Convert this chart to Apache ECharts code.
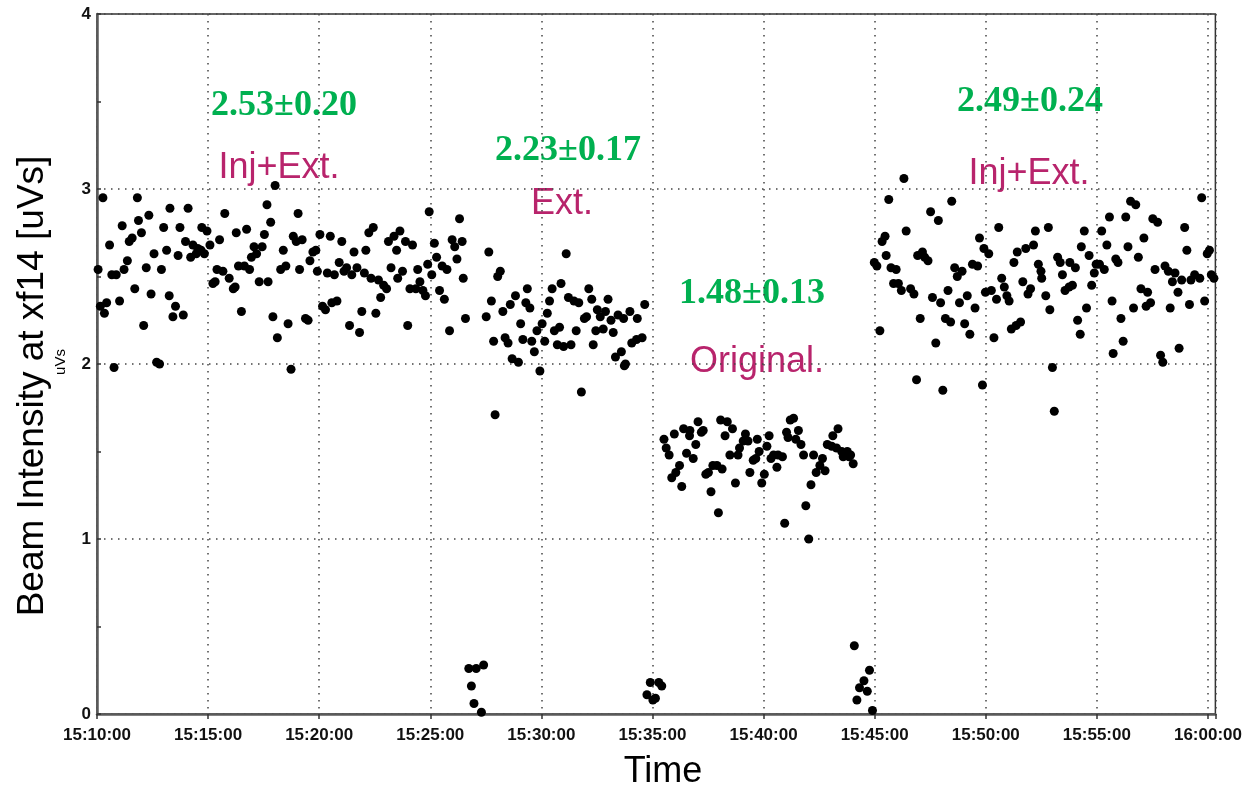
<!DOCTYPE html>
<html>
<head>
<meta charset="utf-8">
<script src="https://cdn.jsdelivr.net/npm/echarts@6/dist/echarts.min.js"></script>
<style>
html,body{margin:0;padding:0;background:#fff;}
#chart{width:1245px;height:790px;}
</style>
</head>
<body>
<div id="chart"></div>
<script>
// Time is in seconds after 15:10:00, values in uVs
const xTickLabels = ['15:10:00','15:15:00','15:20:00','15:25:00','15:30:00','15:35:00','15:40:00','15:45:00','15:50:00','15:55:00','16:00:00'];

// Inj+Ext. (first period)
const injExt1 = [
[16,2.95],[109,2.95],[197,2.89],[246,2.89],[140,2.85],[112,2.82],[68,2.79],[120,2.75],[180,2.78],[224,2.78],[283,2.78],[297,2.76],[95,2.72],[87,2.70],[34,2.68],[239,2.70],[259,2.68],[272,2.66],[188,2.65],[154,2.63],[219,2.62],[253,2.61],[268,2.63],[290,2.63],[281,2.65],[305,2.68],[331,2.71],[345,2.86],[376,2.75],[404,2.77],[459,2.91],[469,2.81],[452,2.74],[424,2.67],[446,2.67],[431,2.63],[417,2.61],[82,2.59],[73,2.54],[133,2.55],[174,2.54],[3,2.54],[40,2.51],[52,2.51],[324,2.54],[340,2.53],[357,2.49],[382,2.56],[398,2.56],[412,2.54],[313,2.46],[319,2.47],[368,2.43],[373,2.44],[438,2.47],[462,2.47],[102,2.43],[146,2.40],[195,2.39],[26,2.35],[61,2.36],[9,2.33],[20,2.29],[212,2.33],[205,2.27],[233,2.28],[390,2.30],[126,2.22],[475,2.27],[487,2.15],[161,2.01],[169,2.00],[46,1.98],[481,3.02],
[543,2.86],[530,2.73],[538,2.70],[554,2.71],[503,2.65],[496,2.54],[510,2.56],[547,2.54],[575,2.59],[583,2.64],[591,2.65],[595,2.53],[602,2.74],[630,2.73],[661,2.70],[694,2.64],[726,2.65],[734,2.75],[746,2.78],[654,2.58],[674,2.55],[667,2.53],[688,2.51],[702,2.55],[722,2.52],[622,2.52],[641,2.51],[740,2.49],[760,2.48],[774,2.45],[782,2.43],[766,2.38],[787,2.70],[802,2.73],[818,2.76],[809,2.65],[833,2.70],[852,2.68],[794,2.55],[825,2.53],[812,2.49],[866,2.54],[893,2.57],[897,2.87],[911,2.69],[917,2.61],[904,2.51],[872,2.47],[845,2.43],[861,2.43],[880,2.42],[887,2.39],[932,2.56],[945,2.54],[959,2.71],[966,2.67],[986,2.70],[979,2.83],[972,2.60],[989,2.49],[925,2.42],[938,2.37],[952,2.19],[995,2.26],[609,2.33],[617,2.31],[634,2.35],[648,2.36],[715,2.30],[753,2.29],[682,2.22],[709,2.18],[839,2.22],[516,2.23],[563,2.26],[570,2.25],[524,1.97]
];

// Ext.
const extOnly = [
[1058,2.64],[1089,2.53],[1082,2.50],[1065,2.36],[1051,2.27],[1130,2.39],[1116,2.34],[1096,2.30],[1162,2.43],[1158,2.35],[1169,2.32],[1144,2.23],[1102,2.15],[1110,2.12],[1071,2.13],[1150,2.14],[1174,2.13],[1181,2.07],[1121,2.03],[1138,2.01],[1196,1.96],[1188,2.19],[1202,2.23],[1209,2.13],[1216,2.29],[1222,2.36],[1229,2.43],[1253,2.46],[1267,2.63],[1273,2.38],[1288,2.36],[1301,2.35],[1235,2.19],[1249,2.21],[1243,2.11],[1260,2.10],[1280,2.11],[1294,2.19],[1316,2.26],[1322,2.27],[1328,2.43],[1336,2.37],[1351,2.31],[1359,2.27],[1373,2.30],[1380,2.37],[1388,2.25],[1407,2.28],[1422,2.26],[1439,2.30],[1459,2.26],[1479,2.34],[1347,2.19],[1367,2.20],[1394,2.18],[1340,2.11],[1416,2.07],[1400,2.04],[1427,2.00],[1424,1.99],[1444,2.12],[1457,2.14],[1472,2.15],[1308,1.84],[1075,1.71]
];

// Original.
const original = [
[1531,1.57],[1537,1.52],[1545,1.48],[1559,1.60],[1584,1.63],[1601,1.62],[1600,1.59],[1623,1.67],[1637,1.62],[1632,1.61],[1617,1.54],[1592,1.49],[1610,1.46],[1573,1.42],[1563,1.38],[1552,1.35],[1579,1.30],[1644,1.37],[1651,1.38],[1663,1.42],[1674,1.42],[1688,1.40],[1658,1.27],[1678,1.15],[1684,1.68],[1702,1.67],[1716,1.63],[1696,1.59],[1709,1.48],[1731,1.48],[1735,1.52],[1745,1.56],[1751,1.60],[1758,1.56],[1724,1.32],[1763,1.38],[1772,1.45],[1779,1.46],[1788,1.50],[1783,1.57],[1809,1.53],[1815,1.59],[1802,1.37],[1795,1.32],[1820,1.46],[1827,1.48],[1839,1.48],[1851,1.47],[1836,1.41],[1872,1.68],[1881,1.69],[1862,1.61],[1866,1.58],[1894,1.62],[1887,1.57],[1901,1.54],[1908,1.48],[1935,1.48],[1959,1.46],[1952,1.42],[1966,1.39],[1942,1.38],[1928,1.31],[1914,1.19],[1857,1.09],[1922,1.00],[1972,1.54],[1987,1.59],[2001,1.63],[1984,1.53],[1997,1.52],[2011,1.50],[2026,1.50],[2015,1.47],[2031,1.47],[2035,1.48],[2042,1.43]
];

// Inj+Ext. (second period)
const injExt2 = [
[2179,3.06],[2138,2.94],[2308,2.93],[2251,2.87],[2272,2.82],[2185,2.76],[2435,2.78],[2534,2.76],[2128,2.73],[2120,2.70],[2383,2.72],[2395,2.66],[2408,2.63],[2131,2.62],[2099,2.58],[2106,2.56],[2216,2.62],[2229,2.64],[2235,2.61],[2244,2.59],[2144,2.55],[2158,2.54],[2316,2.55],[2336,2.53],[2323,2.50],[2364,2.57],[2378,2.56],[2485,2.64],[2508,2.66],[2529,2.68],[2476,2.58],[2542,2.57],[2549,2.53],[2551,2.49],[2151,2.46],[2164,2.46],[2172,2.42],[2197,2.43],[2206,2.40],[2298,2.42],[2256,2.38],[2278,2.35],[2329,2.35],[2350,2.39],[2371,2.32],[2399,2.41],[2415,2.42],[2443,2.49],[2450,2.44],[2429,2.37],[2457,2.39],[2463,2.36],[2500,2.47],[2521,2.43],[2514,2.40],[2223,2.26],[2291,2.26],[2305,2.24],[2343,2.23],[2357,2.17],[2265,2.12],[2114,2.19],[2422,2.15],[2469,2.20],[2482,2.22],[2494,2.24],[2213,1.91],[2284,1.85],[2391,1.88],
[2569,2.78],[2594,2.61],[2601,2.58],[2607,2.51],[2562,2.39],[2573,2.31],[2627,2.58],[2642,2.55],[2614,2.42],[2625,2.44],[2634,2.45],[2666,2.76],[2658,2.67],[2679,2.62],[2693,2.52],[2698,2.57],[2707,2.57],[2720,2.54],[2686,2.45],[2672,2.32],[2648,2.25],[2655,2.17],[2713,2.76],[2734,2.84],[2778,2.84],[2791,2.93],[2805,2.91],[2727,2.68],[2784,2.67],[2751,2.60],[2757,2.58],[2812,2.61],[2827,2.72],[2851,2.83],[2864,2.81],[2741,2.36],[2765,2.26],[2771,2.13],[2744,2.06],[2799,2.32],[2819,2.43],[2837,2.41],[2845,2.35],[2833,2.33],[2857,2.54],[2884,2.56],[2893,2.53],[2911,2.52],[2904,2.47],[2929,2.48],[2919,2.41],[2898,2.32],[2950,2.34],[2937,2.78],[2943,2.65],[2954,2.48],[2964,2.51],[2978,2.49],[2983,2.95],[2998,2.63],[3004,2.65],[2991,2.36],[3009,2.51],[3016,2.49],[2872,2.05],[2878,2.01],[2922,2.09],[2580,1.98],[2585,1.73]
];

// Beam drop-outs between periods
const dropouts = [
[1004,0.26],[1024,0.26],[1044,0.28],[1011,0.16],[1018,0.06],[1038,0.01],
[1494,0.18],[1517,0.18],[1525,0.16],[1485,0.11],[1501,0.08],[1508,0.09],
[2045,0.39],[2086,0.25],[2071,0.19],[2059,0.15],[2080,0.13],[2052,0.08],[2094,0.02]
];

const annotations = [
  {text:'2.53±0.20', kind:'stat', x:284, y:106},
  {text:'Inj+Ext.', kind:'label', x:279, y:168},
  {text:'2.23±0.17', kind:'stat', x:568, y:151},
  {text:'Ext.', kind:'label', x:562, y:204},
  {text:'1.48±0.13', kind:'stat', x:752, y:294},
  {text:'Original.', kind:'label', x:757, y:362},
  {text:'2.49±0.24', kind:'stat', x:1030, y:102},
  {text:'Inj+Ext.', kind:'label', x:1029, y:174}
];

const chart = echarts.init(document.getElementById('chart'), null, {renderer:'canvas'});

const dotted = {type:[1.5,5.5], color:'#444', width:1.5};
const sansFont = '"Liberation Sans", Arial, Helvetica, sans-serif';

function mkSeries(name, data){
  return {
    name, type:'scatter', data,
    symbol:'circle', symbolSize:9,
    itemStyle:{color:'#000', opacity:1},
    silent:true, animation:false
  };
}

const graphics = annotations.map(a => ({
  type:'text', x:a.x, y:a.y, silent:true,
  style:{
    text:a.text,
    fill: a.kind === 'stat' ? '#00b050' : '#b8246c',
    font: a.kind === 'stat'
      ? 'bold 36px "Liberation Serif", "Times New Roman", serif'
      : '36px ' + sansFont,
    textAlign:'center', textVerticalAlign:'middle'
  }
}));

graphics.push({
  type:'text', x:33, y:386, rotation:Math.PI/2, silent:true,
  style:{text:'Beam Intensity at xf14 [uVs]', fill:'#000', font:'37px ' + sansFont,
         textAlign:'center', textVerticalAlign:'middle'}
});
graphics.push({
  type:'text', x:61, y:362, rotation:Math.PI/2, silent:true,
  style:{text:'uVs', fill:'#000', font:'15px ' + sansFont,
         textAlign:'center', textVerticalAlign:'middle'}
});
graphics.push({
  type:'text', x:663, y:772, silent:true,
  style:{text:'Time', fill:'#000', font:'36px ' + sansFont,
         textAlign:'center', textVerticalAlign:'middle'}
});

chart.setOption({
  animation:false,
  backgroundColor:'#fff',
  grid:{left:97, right:22, top:14, bottom:76, show:true, borderColor:'#333', borderWidth:1.5, backgroundColor:'transparent'},
  xAxis:{
    type:'value', min:0, max:3020, interval:300,
    axisLine:{show:true, onZero:false, lineStyle:{color:'#5a5a5a', width:2.5}},
    axisTick:{show:true, length:5, lineStyle:{color:'#333', width:1.5}},
    axisLabel:{
      color:'#111', fontSize:17, fontWeight:'bold', fontFamily:sansFont, margin:13,
      formatter: v => { const i = Math.round(v/300); return (Math.abs(v - i*300) < 1e-6 && xTickLabels[i]) ? xTickLabels[i] : ''; }
    },
    splitLine:{show:true, lineStyle:dotted}
  },
  yAxis:{
    type:'value', min:0, max:4, interval:1,
    axisLine:{show:true, onZero:false, lineStyle:{color:'#5a5a5a', width:2.5}},
    axisTick:{show:true, inside:true, length:4, lineStyle:{color:'#333', width:1.5}},
    minorTick:{show:true, splitNumber:2, length:4, lineStyle:{color:'#333', width:1.5}},
    axisLabel:{color:'#111', fontSize:17, fontWeight:'bold', fontFamily:sansFont, margin:6, padding:[6,0,0,0]},
    splitLine:{show:true, lineStyle:dotted}
  },
  series:[
    mkSeries('Inj+Ext. 1', injExt1),
    mkSeries('Ext.', extOnly),
    mkSeries('Original.', original),
    mkSeries('Inj+Ext. 2', injExt2),
    mkSeries('Drop-outs', dropouts)
  ],
  graphic:graphics
});
</script>
</body>
</html>
